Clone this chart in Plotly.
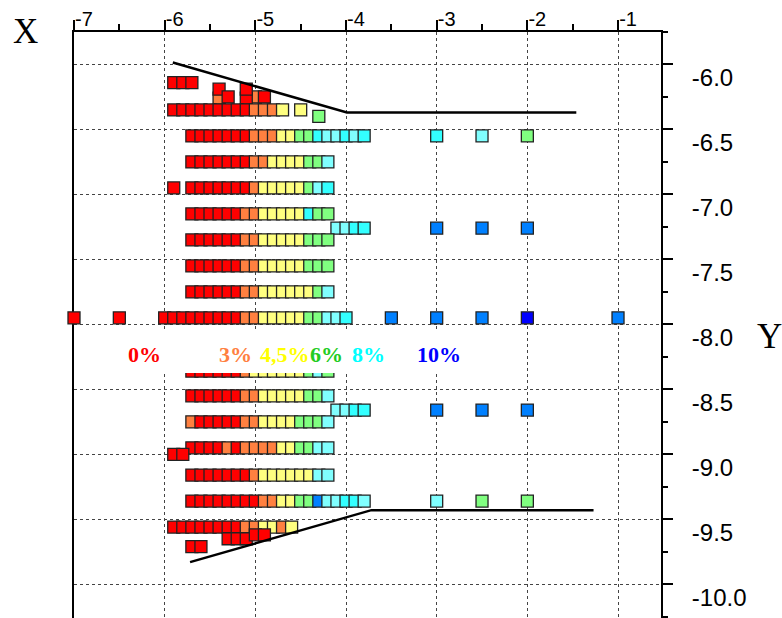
import plotly.graph_objects as go

# ---------------- data ----------------
COLORS = {'R': '#FF0000', 'O': '#FF8040', 'Y': '#FFFF80', 'G': '#80FF80',
          'C': '#80FFFF', 'c': '#33FFFF', 'B': '#0080FF', 'D': '#0000FF'}

x_ticks = [-7, -6, -5, -4, -3, -2, -1]
y_ticks = [-6.0, -6.5, -7.0, -7.5, -8.0, -8.5, -9.0, -9.5, -10.0]

# top scattered cluster
top_x = [-5.9, -5.8, -5.7, -5.4, -5.4, -5.3, -5.0, -5.1, -5.1, -4.9]
top_y = [-6.14, -6.14, -6.14, -6.26, -6.19, -6.25, -6.25, -6.26, -6.19, -6.25]
top_c = ['R', 'R', 'R', 'O', 'R', 'R', 'O', 'R', 'R', 'R']

row_b_y = -6.35
row_b_x = [-5.9, -5.8, -5.7, -5.6, -5.5, -5.4, -5.3, -5.2, -5.1, -5.0, -4.9, -4.8, -4.7]
row_b_c = "RRRRRRRRROOOY"

row_c_y = -6.55
row_c_x = [-5.7, -5.6, -5.5, -5.4, -5.3, -5.2, -5.1, -5.0, -4.9, -4.8,
           -4.7, -4.6, -4.5, -4.4, -4.3, -4.2, -4.1, -4.0, -3.9, -3.8]
row_c_c = "RRRRRRROOOYYGGcCCcCc"

row_d_y = -6.75
row_d_x = [-5.7, -5.6, -5.5, -5.4, -5.3, -5.2, -5.1, -5.0, -4.9, -4.8, -4.7, -4.6, -4.5, -4.4, -4.3, -4.2]
row_d_c = "RRRRRRROOYYYYGGC"

row_e_y = -6.95
row_e_x = [-5.7, -5.6, -5.5, -5.4, -5.3, -5.2, -5.1, -5.0, -4.9, -4.8, -4.7, -4.6, -4.5, -4.4, -4.3, -4.2]
row_e_c = "RRRRRRROYYYYYGCc"

row_f_y = -7.15
row_f_x = [-5.7, -5.6, -5.5, -5.4, -5.3, -5.2, -5.1, -5.0, -4.9, -4.8, -4.7, -4.6, -4.5, -4.4, -4.3, -4.2]
row_f_c = "RRRRRROOYYYYYcGG"

row_g_y = -7.26
row_g_x = [-4.1, -4.0, -3.9, -3.8]
row_g_c = "CCcc"

row_h_y = -7.35
row_h_x = [-5.7, -5.6, -5.5, -5.4, -5.3, -5.2, -5.1, -5.0, -4.9, -4.8, -4.7, -4.6, -4.5, -4.4, -4.3, -4.2]
row_h_c = "RRRRRROOYYYYYGGG"

row_i_y = -7.55
row_i_x = [-5.7, -5.6, -5.5, -5.4, -5.3, -5.2, -5.1, -5.0, -4.9, -4.8, -4.7, -4.6, -4.5, -4.4, -4.3, -4.2]
row_i_c = "RRRRRROOYYYYYGGG"

row_j_y = -7.75
row_j_x = [-5.7, -5.6, -5.5, -5.4, -5.3, -5.2, -5.1, -5.0, -4.9, -4.8, -4.7, -4.6, -4.5, -4.4, -4.3, -4.2]
row_j_c = "RRRRRROOYYYYYYGC"

row_k_y = -7.95
row_k_x = [-6.0, -5.9, -5.8, -5.7, -5.6, -5.5, -5.4, -5.3, -5.2, -5.1, -5.0,
           -4.9, -4.8, -4.7, -4.6, -4.5, -4.4, -4.3, -4.2, -4.1, -4.0]
row_k_c = "RRRRRRRRROOYYYYYGGCCc"

row_l_y = -8.36
row_l_x = [-5.7, -5.6, -5.5, -5.4, -5.3, -5.2, -5.1, -5.0, -4.9, -4.8, -4.7, -4.6, -4.5, -4.4, -4.3, -4.2]
row_l_c = "RRRRRROYYYYYYGCG"

row_m_y = -8.55
row_m_x = [-5.7, -5.6, -5.5, -5.4, -5.3, -5.2, -5.1, -5.0, -4.9, -4.8, -4.7, -4.6, -4.5, -4.4, -4.3, -4.2]
row_m_c = "RRRRRROOYYYYYGGC"

row_n_y = -8.66
row_n_x = [-4.1, -4.0, -3.9, -3.8]
row_n_c = "CCcc"

row_o_y = -8.75
row_o_x = [-5.7, -5.6, -5.5, -5.4, -5.3, -5.2, -5.1, -5.0, -4.9, -4.8, -4.7, -4.6, -4.5, -4.4, -4.3, -4.2]
row_o_c = "ORRRRROOYYYYGGGC"

row_p_y = -8.95
row_p_x = [-5.7, -5.6, -5.5, -5.4, -5.3, -5.2, -5.1, -5.0, -4.9, -4.8, -4.7, -4.6, -4.5, -4.4, -4.3, -4.2]
row_p_c = "RRRROROOOOYYGGCC"

row_q_y = -9.16
row_q_x = [-5.7, -5.6, -5.5, -5.4, -5.3, -5.2, -5.1, -5.0, -4.9, -4.8, -4.7, -4.6, -4.5, -4.4, -4.3, -4.2]
row_q_c = "RRRRRRROYYYYYYCC"

row_r_y = -9.36
row_r_x = [-5.7, -5.6, -5.5, -5.4, -5.3, -5.2, -5.1, -5.0, -4.9, -4.8,
           -4.7, -4.6, -4.5, -4.4, -4.3, -4.2, -4.1, -4.0, -3.9, -3.8]
row_r_c = "RRRRRRRROOYYGGBCCccC"

row_s_y = -9.56
row_s_x = [-5.9, -5.8, -5.7, -5.6, -5.5, -5.4, -5.3, -5.2, -5.1, -5.0, -4.9, -4.8, -4.7, -4.6]
row_s_c = "RRRRRRRROOYYOY"

# isolated squares
iso_x = [-4.5, -4.3, -3.0, -2.5, -2.0, -5.9, -3.0, -2.5, -2.0,
         -7.0, -6.5, -3.5, -3.0, -2.5, -2.0, -1.0, -3.0, -2.5, -2.0,
         -5.9, -5.8, -3.0, -2.5, -2.0]
iso_y = [-6.35, -6.40, -6.55, -6.55, -6.55, -6.95, -7.26, -7.26, -7.26,
         -7.95, -7.95, -7.95, -7.95, -7.95, -7.95, -7.95, -8.66, -8.66, -8.66,
         -9.00, -9.00, -9.36, -9.36, -9.36]
iso_c = ['Y', 'G', 'c', 'C', 'G', 'R', 'B', 'B', 'B',
         'R', 'R', 'B', 'B', 'B', 'D', 'B', 'B', 'B', 'B',
         'R', 'R', 'C', 'G', 'G']

# bottom scattered cluster
bot_x = [-5.3, -5.2, -5.1, -5.0, -4.9, -5.7, -5.6]
bot_y = [-9.65, -9.65, -9.65, -9.62, -9.62, -9.71, -9.71]
bot_c = ['R', 'R', 'R', 'R', 'R', 'R', 'R']

# funnel boundary lines
line_top_x = [-5.91, -3.99, -1.46]
line_top_y = [-5.985, -6.37, -6.37]
line_bot_x = [-5.72, -3.72, -1.27]
line_bot_y = [-9.83, -9.43, -9.43]

# legend labels
leg_text = ['0%', '3%', '4,5%', '6%', '8%', '10%']
leg_color = ['#FF0000', '#FF8040', '#FFFF00', '#22CC22', '#00FFFF', '#0000FF']
leg_x = [-6.22, -5.22, -4.67, -4.21, -3.75, -2.97]
leg_y = -8.235

# ---------------- figure ----------------
fig = go.Figure()


def add_squares(xs, ys, codes):
    if not isinstance(ys, list):
        ys = [ys] * len(xs)
    fig.add_trace(go.Scatter(
        x=xs, y=ys, mode='markers', cliponaxis=False, hoverinfo='skip', showlegend=False,
        marker=dict(symbol='square', size=12, color=[COLORS[c] for c in codes],
                    line=dict(color='#222222', width=1.3))))


add_squares(top_x, top_y, top_c)
for rx, ry, rc in [(row_b_x, row_b_y, row_b_c), (row_c_x, row_c_y, row_c_c),
                   (row_d_x, row_d_y, row_d_c), (row_e_x, row_e_y, row_e_c),
                   (row_f_x, row_f_y, row_f_c), (row_g_x, row_g_y, row_g_c),
                   (row_h_x, row_h_y, row_h_c), (row_i_x, row_i_y, row_i_c),
                   (row_j_x, row_j_y, row_j_c), (row_k_x, row_k_y, row_k_c),
                   (row_l_x, row_l_y, row_l_c), (row_m_x, row_m_y, row_m_c),
                   (row_n_x, row_n_y, row_n_c), (row_o_x, row_o_y, row_o_c),
                   (row_p_x, row_p_y, row_p_c), (row_q_x, row_q_y, row_q_c),
                   (row_r_x, row_r_y, row_r_c), (row_s_x, row_s_y, row_s_c)]:
    add_squares(rx, ry, rc)
add_squares(iso_x, iso_y, iso_c)
add_squares(bot_x, bot_y, bot_c)

for lx, ly in [(line_top_x, line_top_y), (line_bot_x, line_bot_y)]:
    fig.add_trace(go.Scatter(x=lx, y=ly, mode='lines', hoverinfo='skip', showlegend=False,
                             cliponaxis=False, line=dict(color='black', width=2.5)))

# white legend panel hiding part of the plot
fig.add_shape(type='rect', xref='x', yref='y', x0=-6.5, x1=-2.6, y0=-8.375, y1=-8.04,
              fillcolor='white', line=dict(width=0), layer='above')

for t, c, x in zip(leg_text, leg_color, leg_x):
    fig.add_annotation(x=x, y=leg_y, xref='x', yref='y', text=t, showarrow=False,
                       xanchor='center', yanchor='middle',
                       font=dict(family='Liberation Serif, Times New Roman, serif', size=22, color=c,
                                 weight='bold'))

serif = 'Liberation Serif, Times New Roman, serif'
fig.add_annotation(x=-0.082, y=1.001, xref='paper', yref='paper', text='X', showarrow=False,
                   xanchor='center', yanchor='middle',
                   font=dict(family=serif, size=35, color='black'))
fig.add_annotation(x=1.185, y=0.481, xref='paper', yref='paper', text='Y', showarrow=False,
                   xanchor='center', yanchor='middle',
                   font=dict(family=serif, size=35, color='black'))

grid = dict(showgrid=True, gridcolor='#444444', griddash='dot', gridwidth=1, zeroline=False,
            automargin=False)

fig.update_layout(
    width=782, height=618,
    margin=dict(l=73.5, r=121, t=31.5, b=0),
    paper_bgcolor='white', plot_bgcolor='white',
    xaxis=dict(side='top', range=[-7, -0.526], tickvals=x_ticks, ticktext=[str(v) for v in x_ticks],
               ticks='outside', ticklen=10, tickwidth=1.5, tickcolor='black',
               showline=True, linewidth=2, linecolor='black', layer='below traces',
               minor=dict(dtick=0.5, tick0=-7, ticks='outside', ticklen=6, tickwidth=1.5,
                          tickcolor='black', showgrid=False),
               ticklabelstandoff=-14, ticklabelshift=10,
               tickfont=dict(family='Liberation Sans, Arial, sans-serif', size=20, color='black'),
               **grid),
    yaxis=dict(side='right', range=[-10.26, -5.75], tickvals=y_ticks,
               ticktext=['%.1f' % v for v in y_ticks],
               ticks='outside', ticklen=10, tickwidth=1.5, tickcolor='black',
               showline=True, linewidth=2, linecolor='black', mirror=True, layer='below traces',
               minor=dict(dtick=0.25, tick0=-6, ticks='outside', ticklen=5, tickwidth=1.5,
                          tickcolor='black', showgrid=False),
               ticklabelstandoff=14, ticklabelshift=13,
               tickfont=dict(family='Liberation Sans, Arial, sans-serif', size=24, color='black'),
               **grid),
)

fig.write_html("out.html", config={'displayModeBar': False},
               post_script="document.body.style.margin='0px';")
